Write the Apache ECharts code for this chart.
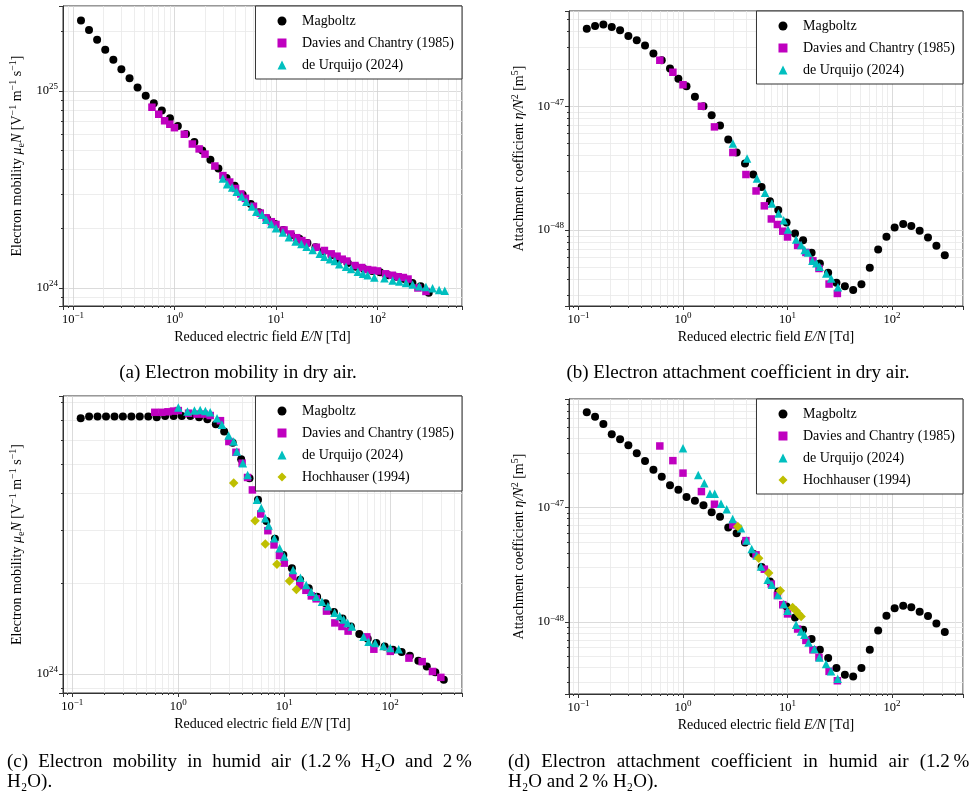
<!DOCTYPE html>
<html>
<head>
<meta charset="utf-8">
<script src="https://cdn.jsdelivr.net/npm/echarts@6.0.0/dist/echarts.min.js"></script>
<style>
  html, body { margin: 0; padding: 0; background: #fff; }
  #chart { width: 976px; height: 799px; }
</style>
</head>
<body>
<div id="chart"></div>
<script>
// Reduced electric field E/N [Td] of the Magboltz points (same grid in all panels)
var magField = [0.12, 0.144, 0.173, 0.208, 0.25, 0.3, 0.361, 0.433, 0.521, 0.626, 0.751, 0.903,
  1.08, 1.3, 1.57, 1.88, 2.26, 2.71, 3.26, 3.92, 4.7, 5.65, 6.79, 8.16, 9.8, 11.8, 14.1, 17.0,
  20.4, 24.5, 29.4, 35.4, 42.5, 51.0, 61.3, 73.7, 88.5, 106, 128, 153, 184, 221, 266, 320];

// (a) mobility in dry air, units of 1e24 V^-1 m^-1 s^-1
var mobDryMag = [22.8, 20.4, 18.2, 16.2, 14.4, 12.9, 11.6, 10.4, 9.47, 8.66, 7.95, 7.27, 6.64,
  6.05, 5.51, 4.98, 4.47, 4.04, 3.62, 3.30, 2.97, 2.67, 2.42, 2.25, 2.11, 1.97, 1.86, 1.78, 1.69,
  1.61, 1.54, 1.47, 1.39, 1.34, 1.28, 1.25, 1.22, 1.20, 1.16, 1.14, 1.11, 1.06, 1.02, 0.946];
var mobDryDcField = [0.6, 0.7, 0.8, 0.9, 1, 1.25, 1.5, 1.75, 2, 2.5, 3, 3.5, 4, 4.5, 5, 6, 7, 8, 9,
  10, 12, 14, 16, 18, 20, 25, 30, 35, 40, 45, 50, 60, 70, 80, 90, 100, 120, 140, 160, 180, 200, 250, 300];
var mobDryDc = [8.27, 7.62, 7.06, 6.78, 6.51, 6.03, 5.38, 5.08, 4.78, 4.16, 3.72, 3.45, 3.20, 3.00,
  2.85, 2.60, 2.40, 2.27, 2.17, 2.10, 1.97, 1.88, 1.80, 1.74, 1.69, 1.61, 1.55, 1.49, 1.45, 1.40,
  1.37, 1.30, 1.27, 1.24, 1.23, 1.22, 1.18, 1.16, 1.14, 1.13, 1.11, 1.00, 0.96];
var mobDryUrqField = [3.0, 3.3, 3.7, 4.1, 4.6, 5.1, 5.8, 6.4, 7.3, 8.0, 9.0, 10, 11.7, 13.4, 15.6,
  17.8, 20, 23, 27, 30, 34, 38, 42, 49, 55, 64, 72, 80, 93, 117, 141, 164, 191, 222, 258, 300, 349, 405, 460];
var mobDryUrq = [3.60, 3.36, 3.24, 3.08, 2.91, 2.74, 2.59, 2.44, 2.35, 2.22, 2.11, 2.01, 1.91, 1.81,
  1.72, 1.67, 1.62, 1.56, 1.49, 1.44, 1.40, 1.37, 1.32, 1.28, 1.25, 1.21, 1.18, 1.16, 1.13, 1.12,
  1.09, 1.08, 1.06, 1.04, 1.02, 1.01, 0.998, 0.977, 0.969];

// (b) attachment in dry air, units of 1e-48 m^5
var attDryMag = [42.3, 44.4, 45.6, 43.6, 41.0, 36.9, 34.1, 30.9, 26.6, 23.5, 20.2, 16.7, 14.5, 11.9,
  10.0, 8.46, 6.98, 5.38, 4.23, 3.45, 2.81, 2.23, 1.71, 1.45, 1.15, 0.94, 0.83, 0.656, 0.538, 0.453,
  0.376, 0.353, 0.328, 0.365, 0.497, 0.698, 0.883, 1.05, 1.12, 1.08, 0.988, 0.873, 0.748, 0.628];
var attDcField = [0.6, 0.8, 1, 1.5, 2, 3, 4, 5, 6, 7, 8, 9, 10, 12.5, 15, 17.5, 20, 25, 30];
var attDryDc = [23.5, 18.8, 14.9, 10.0, 6.81, 4.23, 2.81, 2.07, 1.57, 1.23, 1.11, 0.98, 0.88, 0.752,
  0.66, 0.565, 0.49, 0.367, 0.308];
var attDryUrqField = [3.0, 4.1, 5.1, 6.1, 7.1, 8.2, 9.2, 10.1, 12.1, 13.5, 14.6, 15.7, 17.3, 18.9, 20.3, 23.5, 26.2, 30.4];
var attDryUrq = [5.0, 3.79, 2.61, 2.0, 1.64, 1.36, 1.20, 1.01, 0.841, 0.757, 0.69, 0.66, 0.565, 0.54,
  0.506, 0.447, 0.407, 0.345];

// (c) mobility in humid air, units of 1e24
var mobHumMag = [7.10, 7.19, 7.19, 7.19, 7.19, 7.19, 7.19, 7.19, 7.19, 7.16, 7.22, 7.22, 7.22, 7.22,
  7.16, 7.05, 6.78, 6.41, 5.89, 5.19, 4.48, 3.80, 3.23, 2.82, 2.49, 2.25, 2.06, 1.93, 1.81, 1.72,
  1.61, 1.53, 1.44, 1.36, 1.31, 1.27, 1.235, 1.205, 1.184, 1.15, 1.107, 1.06, 1.015, 0.957];
var mobHumDcField = [0.6, 0.7, 0.8, 0.9, 1, 1.25, 1.5, 1.75, 2, 2.5, 3, 3.5, 4, 4.5, 5, 6, 7, 8, 9, 10,
  12, 14, 16, 18, 20, 25, 30, 35, 40, 60, 70, 100, 150, 200, 250, 300];
var mobHumDc = [7.43, 7.43, 7.46, 7.5, 7.53, 7.38, 7.33, 7.33, 7.25, 6.97, 5.94, 5.47, 5.03, 4.51, 4.10,
  3.41, 3.00, 2.69, 2.48, 2.34, 2.11, 1.97, 1.90, 1.82, 1.78, 1.62, 1.48, 1.44, 1.39, 1.33, 1.21, 1.19,
  1.13, 1.10, 1.02, 0.975];
var mobHumUrqField = [1.0, 1.22, 1.42, 1.61, 1.8, 2.0, 2.32, 2.58, 2.98, 3.33, 3.57, 4.07, 4.51, 5.52,
  6.06, 6.62, 7.11, 8.05, 9.04, 10, 12.1, 14.2, 16.1, 17.9, 20, 22.7, 25.8, 29.8, 33.3, 36.3, 39.6,
  43.5, 56, 62.4, 72.1, 86.4, 100, 120];
var mobHumUrq = [7.71, 7.47, 7.53, 7.57, 7.51, 7.43, 7.10, 6.75, 6.22, 5.94, 5.50, 5.03, 4.60, 3.80,
  3.57, 3.30, 3.12, 2.83, 2.62, 2.46, 2.22, 2.09, 1.98, 1.88, 1.81, 1.74, 1.68, 1.60, 1.56, 1.52, 1.48,
  1.44, 1.33, 1.28, 1.27, 1.24, 1.22, 1.21];
var mobHumHochField = [3.33, 5.3, 6.62, 8.53, 11.2, 13.0];
var mobHumHoch = [4.32, 3.24, 2.71, 2.32, 2.04, 1.91];

// (d) attachment in humid air, units of 1e-48
var attHumMag = [67.9, 62.1, 53.7, 43.6, 39.5, 35.0, 29.8, 25.5, 21.4, 18.6, 15.7, 14.3, 12.4, 11.5,
  10.5, 9.12, 8.30, 6.69, 5.98, 4.96, 3.95, 3.03, 2.26, 1.85, 1.37, 1.10, 0.859, 0.713, 0.574, 0.486,
  0.398, 0.348, 0.336, 0.398, 0.574, 0.847, 1.14, 1.32, 1.39, 1.35, 1.23, 1.13, 0.975, 0.82];
var attHumDc = [34.5, 25.7, 20.0, 13.8, 10.7, 7.06, 5.15, 3.87, 2.9, 2.15, 1.71, 1.42, 1.18, 0.871,
  0.693, 0.574, 0.492, 0.372, 0.308];
var attHumUrqField = [1.0, 1.4, 1.6, 1.81, 2.01, 2.31, 2.62, 2.99, 3.59, 4.07, 4.54, 5.07, 5.58, 6.46,
  7.1, 8.1, 9.2, 10, 12.1, 13.5, 14.5, 15.9, 18.1, 20.2, 23.4, 26.1, 30.2];
var attHumUrq = [33.0, 19.3, 16.3, 13.2, 13.2, 10.8, 9.68, 7.96, 6.61, 5.15, 4.36, 3.82, 3.06, 2.34,
  2.12, 1.73, 1.44, 1.26, 0.948, 0.83, 0.777, 0.665, 0.582, 0.492, 0.431, 0.372, 0.321];
var attHumHochField = [3.34, 5.3, 6.61, 8.53, 11.2, 12.1, 12.8, 13.5];
var attHumHoch = [6.83, 3.62, 2.68, 1.88, 1.34, 1.26, 1.18, 1.12];

var FONT = '"Liberation Serif", "DejaVu Serif", serif';
var N_MAG = 'Magboltz', N_DC = 'Davies and Chantry (1985)', N_URQ = 'de Urquijo (2024)', N_HOCH = 'Hochhauser (1994)';

var chart = echarts.init(document.getElementById('chart'));

function powLabel(v, off) {
  var e = Math.log10(v), r = Math.round(e);
  if (Math.abs(e - r) > 1e-6) return '';
  var ex = r + off;
  return '{b|10}{e|' + (ex < 0 ? '\u2212' + (-ex) : ex) + '}';
}
var tickRich = {
  b: { fontFamily: FONT, fontSize: 12.5, lineHeight: 17, color: '#000' },
  e: { fontFamily: FONT, fontSize: 9, lineHeight: 9, verticalAlign: 'top', color: '#000' }
};
var nameRich = {
  i: { fontFamily: FONT, fontSize: 14, fontStyle: 'italic', color: '#000', lineHeight: 18 },
  s: { fontFamily: FONT, fontSize: 10, lineHeight: 12, verticalAlign: 'bottom', color: '#000' },
  p: { fontFamily: FONT, fontSize: 10, lineHeight: 8, verticalAlign: 'top', color: '#000' }
};

function logAxis(gi, min, max, off, name, gap) {
  return {
    type: 'log', logBase: 10, gridIndex: gi, min: min, max: max,
    name: name, nameLocation: 'middle', nameGap: gap,
    nameTextStyle: { fontFamily: FONT, fontSize: 14, color: '#000', lineHeight: 18, rich: nameRich },
    axisLine: { show: true, onZero: false, lineStyle: { color: '#333', width: 1 } },
    axisTick: { show: true, inside: false, length: 4, lineStyle: { color: '#333' } },
    minorTick: { show: true, splitNumber: 9, length: 2, lineStyle: { color: '#333' } },
    splitLine: { show: true, lineStyle: { color: '#d2d2d2', width: 0.8 } },
    minorSplitLine: { show: true, lineStyle: { color: '#e9e9e9', width: 0.8 } },
    axisLabel: { margin: 5, color: '#000', formatter: function (v) { return powLabel(v, off); }, rich: tickRich }
  };
}

var xName = 'Reduced electric field {i|E/N} [Td]';
var mobName = 'Electron mobility {i|\u03bc}{s|e}{i|N} [V{p|\u22121} m{p|\u22121} s{p|\u22121}]';
var attName = 'Attachment coefficient {i|\u03b7/N}{p|2} [m{p|5}]';

function sc(name, gi, xs, ys, sym, size, color) {
  return {
    type: 'scatter', name: name, xAxisIndex: gi, yAxisIndex: gi,
    data: xs.map(function (x, i) { return [x, ys[i]]; }),
    symbol: sym, symbolSize: size, itemStyle: { color: color, opacity: 1 },
    silent: true, animation: false
  };
}
var C_MAG = '#000000', C_DC = '#bf00bf', C_URQ = '#00bfbf', C_HOCH = '#bfbf00';

var legendItems = [
  { name: N_MAG, icon: 'circle' },
  { name: N_DC, icon: 'path://M0,0L10,0L10,10L0,10Z' },
  { name: N_URQ, icon: 'path://M5,0L10,10L0,10Z' },
  { name: N_HOCH, icon: 'path://M5,0L10,5L5,10L0,5Z' }
];
function legend(right, top, n) {
  return {
    right: right, top: top, orient: 'vertical', selectedMode: false,
    data: legendItems.slice(0, n), symbolKeepAspect: true,
    itemWidth: 30, itemHeight: 9, itemGap: 8, padding: [8, 8, 7, 22],
    backgroundColor: '#fff', borderColor: '#333', borderWidth: 1, borderRadius: 0,
    textStyle: { fontFamily: FONT, fontSize: 14, color: '#000' }
  };
}

function caption(text, x, y, align) {
  return { type: 'text', x: x, y: y, silent: true,
    style: { text: text, fontFamily: FONT, fontSize: 19, fill: '#000', textAlign: align, textVerticalAlign: 'middle' } };
}

chart.setOption({
  backgroundColor: '#fff',
  animation: false,
  grid: [
    { left: 63, top: 6, width: 399, height: 300 },
    { left: 569, top: 11, width: 394, height: 295 },
    { left: 63, top: 396, width: 399, height: 297 },
    { left: 569, top: 399, width: 394, height: 295 }
  ].map(function (g) { return Object.assign(g, { show: true, borderColor: '#333', borderWidth: 1 }); }),
  xAxis: [
    logAxis(0, 0.0798, 680, 0, xName, 22),
    logAxis(1, 0.0811, 478, 0, xName, 22),
    logAxis(2, 0.0817, 475, 0, xName, 22),
    logAxis(3, 0.0811, 478, 0, xName, 22)
  ],
  yAxis: [
    logAxis(0, 0.81, 27.0, 24, mobName, 37),
    logAxis(1, 0.244, 58.7, -48, attName, 41),
    logAxis(2, 0.865, 8.42, 24, mobName, 37),
    logAxis(3, 0.236, 88.7, -48, attName, 41)
  ],
  legend: [legend(514, 6, 3), legend(13, 11, 3), legend(514, 396, 4), legend(13, 399, 4)],
  series: [
    sc(N_MAG, 0, magField, mobDryMag, 'circle', 8, C_MAG),
    sc(N_DC, 0, mobDryDcField, mobDryDc, 'rect', 7.5, C_DC),
    sc(N_URQ, 0, mobDryUrqField, mobDryUrq, 'triangle', 8.5, C_URQ),

    sc(N_MAG, 1, magField, attDryMag, 'circle', 8, C_MAG),
    sc(N_DC, 1, attDcField, attDryDc, 'rect', 7.5, C_DC),
    sc(N_URQ, 1, attDryUrqField, attDryUrq, 'triangle', 8.5, C_URQ),

    sc(N_MAG, 2, magField, mobHumMag, 'circle', 8, C_MAG),
    sc(N_DC, 2, mobHumDcField, mobHumDc, 'rect', 7.5, C_DC),
    sc(N_URQ, 2, mobHumUrqField, mobHumUrq, 'triangle', 8.5, C_URQ),
    sc(N_HOCH, 2, mobHumHochField, mobHumHoch, 'diamond', 9.5, C_HOCH),

    sc(N_MAG, 3, magField, attHumMag, 'circle', 8, C_MAG),
    sc(N_DC, 3, attDcField, attHumDc, 'rect', 7.5, C_DC),
    sc(N_URQ, 3, attHumUrqField, attHumUrq, 'triangle', 8.5, C_URQ),
    sc(N_HOCH, 3, attHumHochField, attHumHoch, 'diamond', 9.5, C_HOCH)
  ],
  graphic: [
    caption('(a) Electron mobility in dry air.', 238, 373, 'center'),
    caption('(b) Electron attachment coefficient in dry air.', 738, 373, 'center'),
    // first caption lines are justified in the original, hence the widened gaps
    caption('(c) \u2009\u200aElectron \u2009\u200amobility \u2009\u200ain \u2009\u200ahumid \u2009\u200aair \u2009\u200a(1.2\u2009% \u2009\u200aH\u2082O \u2009\u200aand \u2009\u200a2\u2009%', 7, 762, 'left'),
    caption('H\u2082O).', 7, 782, 'left'),
    caption('(d)  \u200aElectron  \u200aattachment  \u200acoefficient  \u200ain  \u200ahumid  \u200aair  \u200a(1.2\u2009%', 508, 762, 'left'),
    caption('H\u2082O and 2\u2009% H\u2082O).', 508, 782, 'left')
  ]
});
</script>
</body>
</html>
